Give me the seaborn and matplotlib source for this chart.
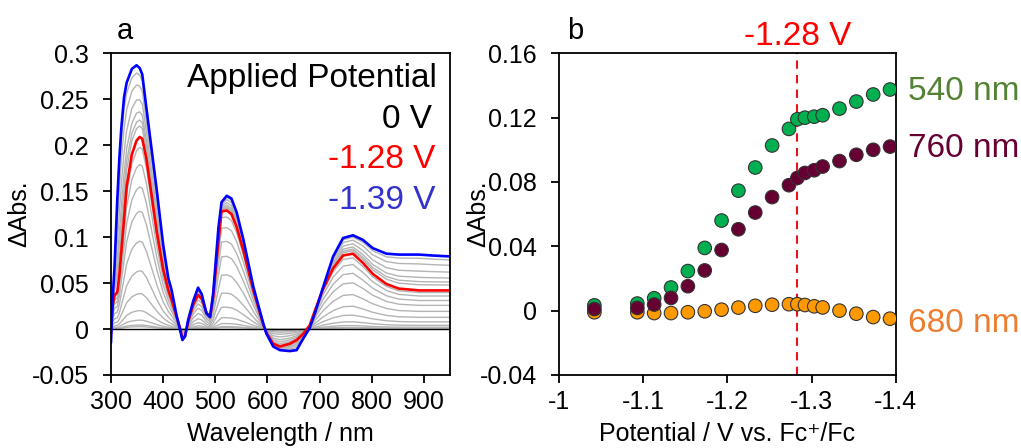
import numpy as np
import pandas as pd
import matplotlib
matplotlib.use("Agg")
import matplotlib.pyplot as plt
import seaborn as sns
from matplotlib.ticker import FuncFormatter

# ---------------- data ----------------
# Panel a: spectra sampled on a common wavelength grid (nm)
wavelength = [300, 303, 307, 312, 316, 320, 325, 330, 340, 349, 355, 360, 368, 378, 388,
              400, 410, 416, 426, 432, 437, 442, 448, 458, 467, 474, 483, 490, 496, 506,
              512, 522, 531, 541, 554, 573, 592, 598, 611, 624, 643, 656, 669, 681, 691,
              707, 726, 745, 764, 783, 802, 828, 852, 891, 916, 950]
spec_139 = [-0.015, 0.03, 0.07, 0.14, 0.185, 0.22, 0.252, 0.268, 0.283, 0.287, 0.284, 0.277,
            0.24, 0.195, 0.15, 0.092, 0.055, 0.043, 0.014, 0.0, -0.012, -0.008, 0.01, 0.031,
            0.045, 0.038, 0.017, 0.013, 0.039, 0.11, 0.138, 0.145, 0.142, 0.127, 0.097, 0.046,
            0.006, -0.005, -0.019, -0.023, -0.024, -0.023, -0.01, 0.001, 0.017, 0.046, 0.079,
            0.099, 0.102, 0.097, 0.088, 0.082, 0.081, 0.081, 0.080, 0.079]
spec_128 = [-0.005, 0.025, 0.037, 0.040, 0.058, 0.086, 0.12, 0.155, 0.19, 0.205, 0.209, 0.207,
            0.185, 0.145, 0.105, 0.065, 0.042, 0.032, 0.013, 0.002, -0.01, -0.008, 0.008, 0.027,
            0.037, 0.033, 0.018, 0.013, 0.035, 0.095, 0.128, 0.129, 0.125, 0.111, 0.085, 0.042,
            0.005, -0.004, -0.016, -0.019, -0.016, -0.012, -0.005, 0.004, 0.02, 0.044, 0.066,
            0.080, 0.082, 0.072, 0.06, 0.049, 0.044, 0.042, 0.042, 0.042]
spec_0 = [0.0] * len(wavelength)

# Panel b: band intensities vs. potential
potential = [-1.042, -1.093, -1.113, -1.133, -1.153, -1.173, -1.193, -1.213, -1.233, -1.253,
             -1.273, -1.283, -1.292, -1.303, -1.313, -1.333, -1.353, -1.373, -1.393]
abs_540 = [0.0033, 0.0044, 0.0077, 0.0144, 0.0246, 0.039, 0.056, 0.0746, 0.089, 0.1027,
           0.113, 0.119, 0.120, 0.1206, 0.1215, 0.1256, 0.130, 0.1344, 0.1375]
abs_760 = [0.001, 0.0017, 0.0038, 0.0079, 0.0152, 0.025, 0.0377, 0.0506, 0.061, 0.0706,
           0.078, 0.0825, 0.0856, 0.0873, 0.0896, 0.093, 0.0969, 0.100, 0.102]
abs_680 = [-0.001, -0.001, -0.0015, -0.0015, -0.001, -0.0004, 0.0006, 0.0019, 0.003, 0.0037,
           0.004, 0.004, 0.0035, 0.0027, 0.002, 0.0, -0.0019, -0.004, -0.005]
marked_potential = -1.283

# ---------------- style ----------------
sns.set_theme(style="ticks")
plt.rcParams["font.family"] = ["Liberation Sans", "DejaVu Sans"]
plt.rcParams["axes.unicode_minus"] = False
plt.rcParams["text.color"] = "black"
plt.rcParams["axes.labelcolor"] = "black"
plt.rcParams["xtick.color"] = "black"
plt.rcParams["ytick.color"] = "black"
plt.rcParams["xtick.direction"] = "out"
plt.rcParams["ytick.direction"] = "out"

fig = plt.figure(figsize=(10.21, 4.48), dpi=100)
axa = fig.add_axes([0.1087, 0.163, 0.332, 0.718])
axb = fig.add_axes([0.5475, 0.163, 0.330, 0.718])

fmt = FuncFormatter(lambda v, p: ("%g" % round(v, 4)))

# ---------------- panel a ----------------
w = np.array(wavelength)
blue = np.array(spec_139)
red = np.array(spec_128)
v760 = np.array(abs_760)
i_red = potential.index(marked_potential)
curves = []
for i, v in enumerate(abs_760[:-1]):
    if i == i_red:
        continue
    if i < i_red:
        curves.append(red * (v / v760[i_red]))
    else:
        t = (v - v760[i_red]) / (v760[-1] - v760[i_red])
        curves.append(red + (blue - red) * t)

for c in curves:
    sns.lineplot(x=w, y=c, ax=axa, color="#b4b4b4", lw=1.0, sort=False, estimator=None)
sns.lineplot(x=w, y=np.array(spec_0), ax=axa, color="black", lw=1.0, sort=False, estimator=None)
sns.lineplot(x=w, y=red, ax=axa, color="#ff0000", lw=1.9, sort=False, estimator=None)
sns.lineplot(x=w, y=blue, ax=axa, color="#0000ff", lw=1.9, sort=False, estimator=None)

axa.set_xlim(300, 950)
axa.set_ylim(-0.05, 0.3)
axa.set_xticks([300, 400, 500, 600, 700, 800, 900])
axa.set_yticks([-0.05, 0, 0.05, 0.1, 0.15, 0.2, 0.25, 0.3])
axa.yaxis.set_major_formatter(fmt)
axa.set_xlabel("Wavelength / nm", fontsize=18, labelpad=6)
axa.set_ylabel("ΔAbs.", fontsize=18, labelpad=0)
axa.text(0.018, 1.045, "a", transform=axa.transAxes, fontsize=21, ha="left", va="baseline")
axa.text(0.962, 0.894, "Applied Potential", transform=axa.transAxes, fontsize=24,
         ha="right", va="baseline", color="black")
axa.text(0.947, 0.767, "0 V", transform=axa.transAxes, fontsize=24, ha="right", va="baseline", color="black")
axa.text(0.956, 0.643, "-1.28 V", transform=axa.transAxes, fontsize=24, ha="right", va="baseline", color="#ff0000")
axa.text(0.956, 0.516, "-1.39 V", transform=axa.transAxes, fontsize=24, ha="right", va="baseline", color="#3333cc")

# ---------------- panel b ----------------
n = len(potential)
df = pd.DataFrame({
    "Potential": potential * 3,
    "dAbs": abs_680 + abs_540 + abs_760,
    "band": ["680 nm"] * n + ["540 nm"] * n + ["760 nm"] * n,
})
pal = {"540 nm": "#00b050", "760 nm": "#660033", "680 nm": "#ff9900"}
sns.scatterplot(data=df, x="Potential", y="dAbs", hue="band", palette=pal, s=95,
                edgecolor="#333333", linewidth=0.8, ax=axb, legend=False, zorder=3)
axb.axvline(marked_potential, color="#e8141c", lw=1.5, ls=(0, (4, 3)), zorder=2)

axb.set_xlim(-1.0, -1.4)
axb.set_ylim(-0.04, 0.16)
axb.set_xticks([-1.0, -1.1, -1.2, -1.3, -1.4])
axb.set_yticks([-0.04, 0, 0.04, 0.08, 0.12, 0.16])
axb.xaxis.set_major_formatter(fmt)
axb.yaxis.set_major_formatter(fmt)
axb.set_xlabel("Potential / V vs. Fc⁺/Fc", fontsize=18, labelpad=6)
axb.set_ylabel("ΔAbs.", fontsize=18, labelpad=-8)
axb.text(0.024, 1.045, "b", transform=axb.transAxes, fontsize=21, ha="left", va="baseline")
axb.text(marked_potential, 0.1705, "-1.28 V", fontsize=24, color="#ff0000", ha="center", va="center")
label_col = {"540 nm": "#548235", "760 nm": "#660033", "680 nm": "#ed7d31"}
axb.text(1.035, (0.136 + 0.04) / 0.2, "540 nm", transform=axb.transAxes, fontsize=24,
         color=label_col["540 nm"], ha="left", va="center")
axb.text(1.035, (0.101 + 0.04) / 0.2, "760 nm", transform=axb.transAxes, fontsize=24,
         color=label_col["760 nm"], ha="left", va="center")
axb.text(1.035, (-0.008 + 0.04) / 0.2, "680 nm", transform=axb.transAxes, fontsize=24,
         color=label_col["680 nm"], ha="left", va="center")

for ax in (axa, axb):
    for sp in ax.spines.values():
        sp.set_visible(True)
        sp.set_linewidth(1.3)
        sp.set_color("black")
    ax.tick_params(axis="both", labelsize=18, length=5.5, width=1.3, color="black")
    ax.tick_params(axis="x", pad=5)
    ax.tick_params(axis="y", pad=10.5)

fig.savefig("out.png", dpi=100)
